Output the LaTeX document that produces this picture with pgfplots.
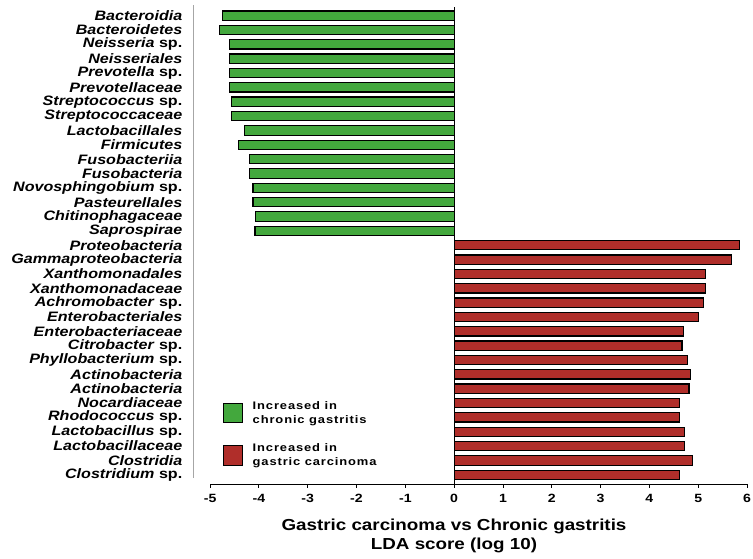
\documentclass[border=0pt]{standalone}
\usepackage{fontspec}
\setmainfont{Liberation Sans}[FakeStretch=1.18]
\usepackage{pgfplots}
\pgfplotsset{compat=1.18}
\definecolor{cgreen}{RGB}{67,168,61}
\definecolor{cred}{RGB}{176,46,42}
\begin{document}
\begin{tikzpicture}
\useasboundingbox (-193bp,-75bp) rectangle (560bp,484bp);
\begin{axis}[
  scale only axis, width=554bp, height=479.1bp,
  xmin=-5.35, xmax=6, ymin=-0.64, ymax=32.75,
  axis line style={draw=none},
  clip=false,
  xbar, bar shift=0pt, bar width=0.65,
  xtick={-5,-4,-3,-2,-1,0,1,2,3,4,5,6},
  ytick={0,1,...,32},
  yticklabels={
    {\textit{Clostridium} sp.},
    \textit{Clostridia},
    \textit{Lactobacillaceae},
    {\textit{Lactobacillus} sp.},
    {\textit{Rhodococcus} sp.},
    \textit{Nocardiaceae},
    \textit{Actinobacteria},
    \textit{Actinobacteria},
    {\textit{Phyllobacterium} sp.},
    {\textit{Citrobacter} sp.},
    \textit{Enterobacteriaceae},
    \textit{Enterobacteriales},
    {\textit{Achromobacter} sp.},
    \textit{Xanthomonadaceae},
    \textit{Xanthomonadales},
    \textit{Gammaproteobacteria},
    \textit{Proteobacteria},
    \textit{Saprospirae},
    \textit{Chitinophagaceae},
    \textit{Pasteurellales},
    {\textit{Novosphingobium} sp.},
    \textit{Fusobacteria},
    \textit{Fusobacteriia},
    \textit{Firmicutes},
    \textit{Lactobacillales},
    \textit{Streptococcaceae},
    {\textit{Streptococcus} sp.},
    \textit{Prevotellaceae},
    {\textit{Prevotella} sp.},
    \textit{Neisseriales},
    {\textit{Neisseria} sp.},
    \textit{Bacteroidetes},
    \textit{Bacteroidia}},
  xtick pos=bottom, ytick pos=left,
  tick align=outside,
  major tick length=3.5bp,
  x tick style={black, line width=0.9bp},
  y tick style={draw=none},
  /pgf/number format/assume math mode=true,
  xticklabel style={font=\fontsize{12}{14}\selectfont\bfseries, inner sep=0pt, anchor=north, yshift=-6.5bp},
  yticklabel style={font=\fontsize{13.7}{15}\selectfont\bfseries, anchor=east, inner sep=0pt, xshift=-7bp},
  xlabel={Gastric carcinoma vs Chronic gastritis\\LDA score (log 10)},
  xlabel style={font=\fontsize{16}{19}\selectfont\bfseries, align=center, inner sep=0pt,
    at={(axis description cs:0.4711,0)}, anchor=north, yshift=-35bp},
  legend image code/.code={\draw[#1, line width=0.9bp] (0bp,-9.5bp) rectangle (19bp,9.5bp);},
  legend style={draw=none, fill=none, at={(axis description cs:0.0535,0.177)}, anchor=north west,
    font=\fontsize{11}{14}\selectfont\bfseries\addfontfeature{LetterSpace=8},
    nodes={align=left}, row sep=15bp, column sep=8bp, inner sep=0pt},
  legend cell align=left,
]
\addplot+[xbar, bar shift=0pt, draw=black, line width=1.2bp, fill=cgreen] coordinates {
  (-4.08,17) (-4.07,18) (-4.12,19) (-4.12,20) (-4.20,21) (-4.20,22) (-4.41,23) (-4.29,24)
  (-4.56,25) (-4.56,26) (-4.60,27) (-4.60,28) (-4.61,29) (-4.60,30) (-4.80,31) (-4.75,32)};
\addlegendentry{Increased in\\chronic gastritis}
\addplot+[xbar, bar shift=0pt, draw=black, line width=1.2bp, fill=cred] coordinates {
  (4.61,0) (4.89,1) (4.72,2) (4.72,3) (4.61,4) (4.61,5) (4.81,6) (4.84,7) (4.78,8)
  (4.67,9) (4.70,10) (5.00,11) (5.11,12) (5.15,13) (5.15,14) (5.69,15) (5.85,16)};
\addlegendentry{Increased in\\gastric carcinoma}
\draw[black, line width=1bp] (axis cs:-5,-0.64) -- (axis cs:6,-0.64);
\draw[black, line width=1.1bp] (axis cs:0,-0.64) -- (axis cs:0,32.6);
\draw[gray!70, line width=0.8bp] (axis cs:-5.35,-0.22) -- (axis cs:-5.35,32.75);
\end{axis}
\end{tikzpicture}
\end{document}
